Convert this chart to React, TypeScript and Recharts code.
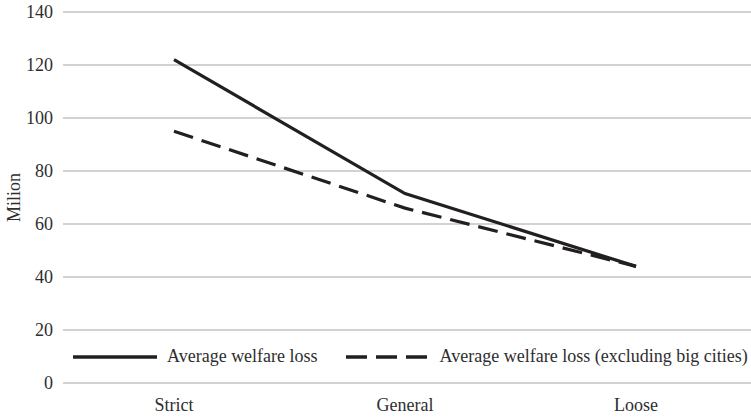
import React from "react";
import { LineChart, Line, XAxis, YAxis, CartesianGrid, Legend } from "recharts";

// welfare loss per restriction level, in millions
const categories = ["Strict", "General", "Loose"];
const averageLoss = [122, 71.5, 44];
const averageLossExBigCities = [95, 66, 44];
const yTicks = [0, 20, 40, 60, 80, 100, 120, 140];

const series = [
  { key: "all", name: "Average welfare loss", values: averageLoss, dash: undefined as string | undefined },
  { key: "exBig", name: "Average welfare loss (excluding big cities)", values: averageLossExBigCities, dash: "20 9" },
];

const data = categories.map((category, i) => {
  const row: Record<string, string | number> = { category };
  series.forEach((s) => {
    row[s.key] = s.values[i];
  });
  return row;
});

const FONT = '"Liberation Serif", "Times New Roman", serif';
const FONT_SIZE = 18;
const INK = "#231f20";
const TEXT = "#2e2e2e";

const YAxisTitle = ({ viewBox }: any) => {
  const cx = 20;
  const cy = viewBox.y + viewBox.height / 2;
  return (
    <text
      x={cx}
      y={cy}
      transform={`rotate(-90, ${cx}, ${cy})`}
      textAnchor="middle"
      fontFamily={FONT}
      fontSize={FONT_SIZE}
      fill={TEXT}
    >
      Milion
    </text>
  );
};

const LegendRow = () => (
  <div
    style={{
      display: "flex",
      alignItems: "center",
      gap: 28,
      fontFamily: FONT,
      fontSize: FONT_SIZE,
      color: TEXT,
      whiteSpace: "nowrap",
    }}
  >
    {series.map((s) => (
      <div key={s.key} style={{ display: "flex", alignItems: "center" }}>
        <svg width={s.dash ? 82 : 84} height={8}>
          <line
            x1={0}
            y1={4}
            x2={s.dash ? 82 : 84}
            y2={4}
            stroke={INK}
            strokeWidth={3.5}
            strokeDasharray={s.dash ? "21 9" : undefined}
          />
        </svg>
        <span style={{ marginLeft: s.dash ? 12 : 10 }}>{s.name}</span>
      </div>
    ))}
  </div>
);

export default function App() {
  return (
    <div style={{ position: "absolute", left: 0, top: 0, background: "#fff" }}>
      <LineChart
        width={751}
        height={418}
        data={data}
        margin={{ top: 12, right: 0, bottom: 5, left: 0 }}
      >
        <CartesianGrid vertical={false} stroke="#a6a6a6" strokeWidth={1.2} />
        <XAxis
          dataKey="category"
          padding={{ left: 111, right: 115 }}
          axisLine={false}
          tickLine={false}
          height={30}
          tickMargin={9}
          tick={{ fill: TEXT, fontSize: FONT_SIZE, fontFamily: FONT }}
        />
        <YAxis
          width={63}
          domain={[0, 140]}
          ticks={yTicks}
          axisLine={false}
          tickLine={false}
          tickMargin={4}
          tick={{ fill: TEXT, fontSize: FONT_SIZE, fontFamily: FONT }}
          label={<YAxisTitle />}
        />
        <Legend
          verticalAlign="middle"
          layout="horizontal"
          content={<LegendRow />}
          wrapperStyle={{ top: 346, left: 73, width: "auto" }}
        />
        {series.map((s) => (
          <Line
            key={s.key}
            type="linear"
            dataKey={s.key}
            name={s.name}
            stroke={INK}
            strokeWidth={3.2}
            strokeDasharray={s.dash}
            dot={false}
            activeDot={false}
            isAnimationActive={false}
          />
        ))}
      </LineChart>
    </div>
  );
}
